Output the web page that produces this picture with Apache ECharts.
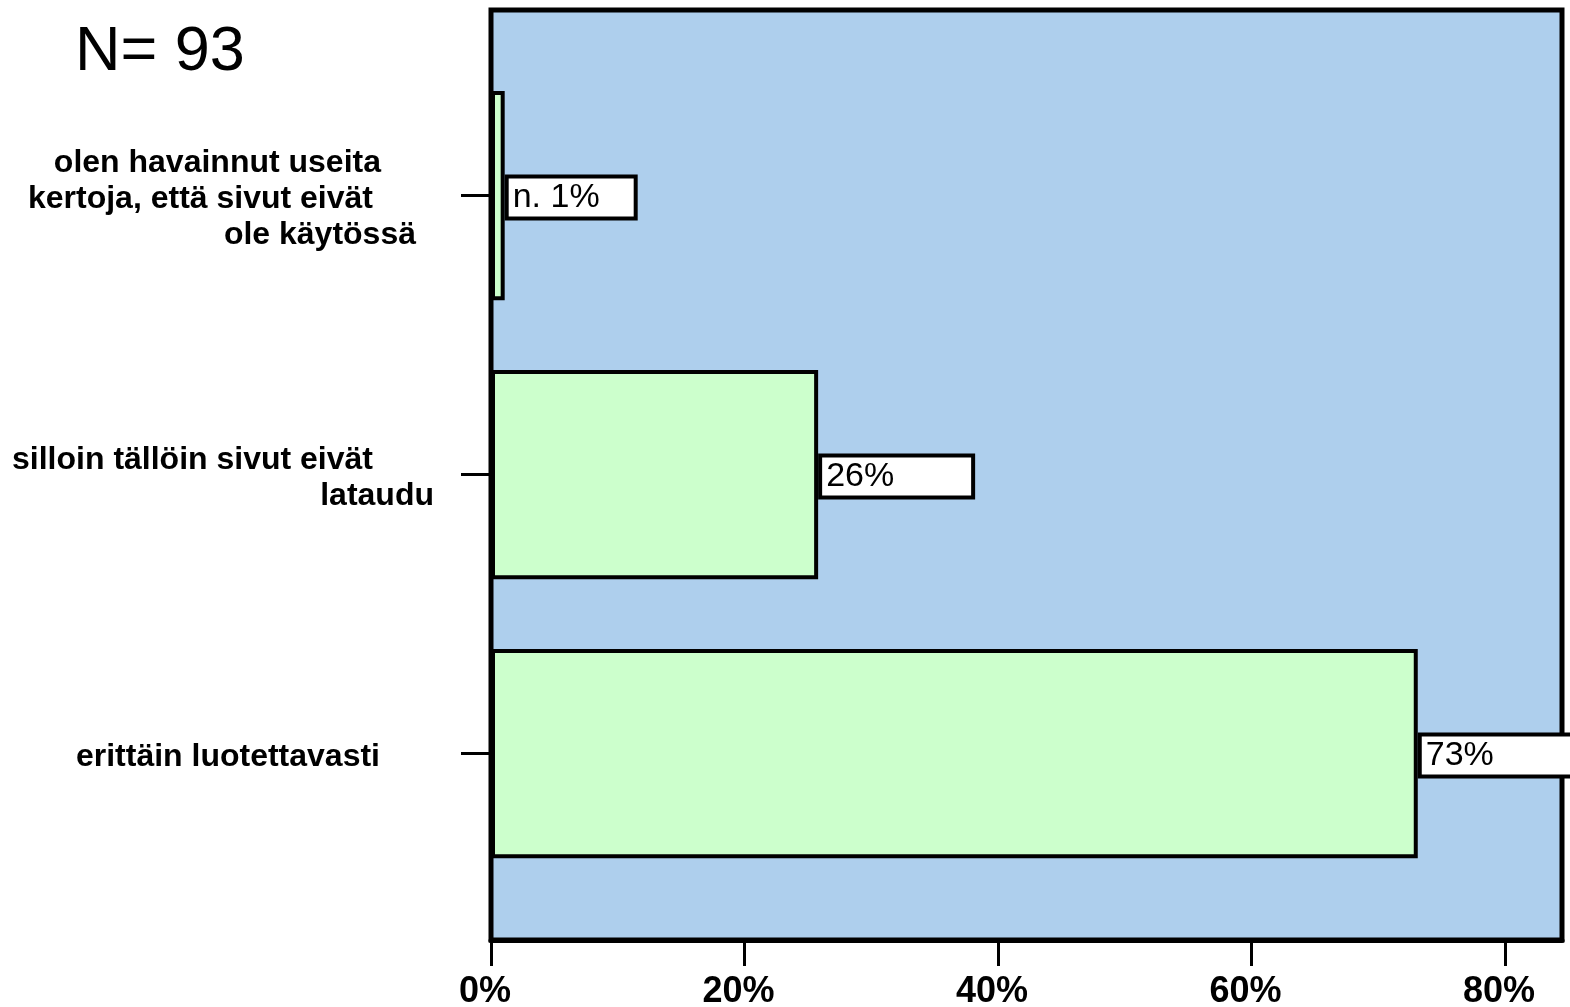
<!DOCTYPE html>
<html><head><meta charset="utf-8">
<script src="https://cdn.jsdelivr.net/npm/echarts@6/dist/echarts.min.js"></script>
<style>html,body{margin:0;padding:0;background:#fff}#c{width:1570px;height:1007px}</style>
</head><body><div id="c"></div>
<script>
const categories = ['olen havainnut useita\nkertoja, että sivut eivät\nole käytössä', 'silloin tällöin sivut eivät\nlataudu', 'erittäin luotettavasti'];
const percentValues = [1.08, 25.81, 73.12];
const valueLabels = ['n. 1%', '26%', '73%'];
const xTicks = [0, 20, 40, 60, 80];
const titleText = 'N= 93';

const linePads = [[53, 61, 18], [61, 0], [54]];
const boxWidths = [121, 145, 170];

const chart = echarts.init(document.getElementById('c'));
const L = 491, R = 8;
const catFont = { fontFamily: 'Liberation Sans', fontWeight: 'bold', fontSize: 32, lineHeight: 36, color: '#000' };
chart.setOption({
  animation: false,
  backgroundColor: '#fff',
  title: { text: titleText, left: 70, top: 16, textStyle: { fontFamily: 'Liberation Sans', fontWeight: 'normal', fontSize: 63, color: '#000' } },
  grid: [
    { left: L, right: R, top: 56, bottom: 114, containLabel: false, outerBoundsMode: 'none' },
    { left: L, right: R, top: 10, bottom: 67, show: true, backgroundColor: '#AECFED', borderColor: '#000', borderWidth: 5, z: 0, containLabel: false, outerBoundsMode: 'none' }
  ],
  xAxis: [
    { type: 'value', gridIndex: 0, min: 0, max: 84.5, show: false },
    { type: 'value', gridIndex: 1, min: 0, max: 84.5, interval: 20,
      axisLine: { show: true, lineStyle: { color: '#000', width: 5 } },
      axisTick: { show: true, length: 26, customValues: xTicks, lineStyle: { color: '#000', width: 3 } },
      splitLine: { show: false },
      axisLabel: { customValues: xTicks, margin: 34, padding: [0, 12, 0, 0], formatter: v => v + '%', fontFamily: 'Liberation Sans Narrow, Liberation Sans', fontWeight: 'bold', fontSize: 36, color: '#000' } }
  ],
  yAxis: [
    { type: 'category', gridIndex: 0, data: categories, inverse: true,
      axisLine: { show: false },
      axisTick: { show: true, alignWithLabel: true, length: 30, lineStyle: { color: '#000', width: 3 } },
      axisLabel: Object.assign({ margin: 57, padding: [8, 0, 0, 0],
        formatter: (val, idx) => val.split('\n').map((ln, j) => '{p' + ((linePads[idx] || [])[j] || 0) + '|' + ln + '}').join('\n'),
        rich: (() => { const r = {}; linePads.flat().forEach(p => { r['p' + p] = Object.assign({ padding: [0, p, 0, 0], align: 'right' }, catFont); }); return r; })()
      }, catFont) },
    { type: 'value', gridIndex: 1, show: false }
  ],
  series: [{
    type: 'bar', xAxisIndex: 0, yAxisIndex: 0, barCategoryGap: '25%', z: 3,
    itemStyle: { color: '#CCFFCC', borderColor: '#000', borderWidth: 4 },
    data: percentValues.map((v, i) => ({ value: v, label: { width: boxWidths[i] } })),
    label: { show: true, position: 'right', distance: 4, offset: [0, 2],
      formatter: p => valueLabels[p.dataIndex],
      fontFamily: 'Liberation Sans', fontSize: 34, lineHeight: 37, color: '#000',
      backgroundColor: '#fff', borderColor: '#000', borderWidth: 4, padding: [1, 0, 0, 4], align: 'left' }
  }]
});
</script></body></html>
